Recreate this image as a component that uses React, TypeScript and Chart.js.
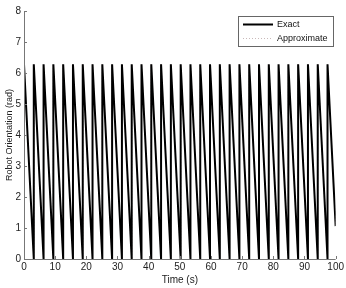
import React, { useEffect, useRef } from "react";
import { Chart, registerables } from "chart.js";

Chart.register(...registerables);

// Times (s) at which the orientation wraps from 0 back up to 2π
const peakTimes = [
  0, 3.14, 6.28, 9.42, 12.57, 15.71, 18.85, 21.99, 25.13, 28.27, 31.42, 34.56,
  37.7, 40.84, 43.98, 47.12, 50.27, 53.41, 56.55, 59.69, 62.83, 65.97, 69.12,
  72.26, 75.4, 78.54, 81.68, 84.82, 87.96, 91.11, 94.25, 97.39,
];
const topValue = 6.28;
const bottomValue = 0;
const endTime = 100;
const endValue = 1.06;

const seriesLabels = ["Exact", "Approximate"];
const xTickValues = [0, 10, 20, 30, 40, 50, 60, 70, 80, 90, 100];
const yTickValues = [0, 1, 2, 3, 4, 5, 6, 7, 8];

const FONT = "'Liberation Sans', Arial, sans-serif";

function buildPath() {
  const pts: { x: number; y: number }[] = [];
  peakTimes.forEach((t, i) => {
    if (i > 0) pts.push({ x: t, y: bottomValue });
    pts.push({ x: t, y: topValue });
  });
  pts.push({ x: endTime, y: endValue });
  return pts;
}

const axesPlugin = {
  id: "matlabAxes",
  afterDraw(chart: any) {
    const { ctx, chartArea } = chart;
    const x = chart.scales.x;
    const y = chart.scales.y;
    ctx.save();
    ctx.strokeStyle = "#777";
    ctx.lineWidth = 1;
    ctx.beginPath();
    ctx.moveTo(chartArea.left + 0.5, chartArea.top);
    ctx.lineTo(chartArea.left + 0.5, chartArea.bottom + 0.5);
    ctx.lineTo(chartArea.right, chartArea.bottom + 0.5);
    ctx.stroke();
    ctx.beginPath();
    xTickValues.forEach((v) => {
      const px = Math.round(x.getPixelForValue(v)) + 0.5;
      ctx.moveTo(px, chartArea.bottom);
      ctx.lineTo(px, chartArea.bottom - 3);
    });
    yTickValues.forEach((v) => {
      const py = Math.round(y.getPixelForValue(v)) + 0.5;
      ctx.moveTo(chartArea.left, py);
      ctx.lineTo(chartArea.left + 3, py);
    });
    ctx.stroke();

    // legend
    const lx = 238.5, ly = 16.5, lw = 95, lh = 30;
    ctx.fillStyle = "#fff";
    ctx.fillRect(lx, ly, lw, lh);
    ctx.strokeStyle = "#666";
    ctx.strokeRect(lx, ly, lw, lh);
    ctx.strokeStyle = "#000";
    ctx.lineWidth = 2;
    ctx.beginPath();
    ctx.moveTo(243, 24.5);
    ctx.lineTo(273, 24.5);
    ctx.stroke();
    ctx.strokeStyle = "#c9b9b9";
    ctx.lineWidth = 1;
    ctx.setLineDash([1, 2]);
    ctx.beginPath();
    ctx.moveTo(243, 38.5);
    ctx.lineTo(273, 38.5);
    ctx.stroke();
    ctx.setLineDash([]);
    ctx.fillStyle = "#111";
    ctx.font = `9px ${FONT}`;
    ctx.textBaseline = "middle";
    ctx.textAlign = "left";
    ctx.fillText(seriesLabels[0], 277, 25);
    ctx.fillText(seriesLabels[1], 277, 39);
    ctx.restore();
  },
};

export default function App() {
  const ref = useRef<HTMLCanvasElement>(null);
  useEffect(() => {
    if (!ref.current) return;
    const path = buildPath();
    const chart = new Chart(ref.current, {
      type: "line",
      data: {
        datasets: [
          {
            label: seriesLabels[0],
            data: path,
            borderColor: "#000",
            borderWidth: 2,
            pointRadius: 0,
            tension: 0,
            order: 1,
          },
          {
            label: seriesLabels[1],
            data: path,
            borderColor: "#c9a9a9",
            borderWidth: 1,
            borderDash: [1, 2],
            pointRadius: 0,
            tension: 0,
            order: 2,
          },
        ],
      },
      options: {
        animation: false,
        responsive: false,
        maintainAspectRatio: false,
        layout: { padding: { top: 11, right: 6, left: 0, bottom: 0 } },
        plugins: { legend: { display: false }, tooltip: { enabled: false } },
        scales: {
          x: {
            type: "linear",
            min: 0,
            max: 100,
            afterFit(scale: any) {
              scale.height = 29;
            },
            afterBuildTicks(scale: any) {
              scale.ticks = xTickValues.map((v) => ({ value: v }));
            },
            grid: { display: false, drawTicks: false },
            border: { display: false },
            ticks: {
              color: "#222",
              font: { family: FONT, size: 10 },
              padding: 2,
              maxRotation: 0,
              autoSkip: false,
            },
            title: {
              display: true,
              text: "Time (s)",
              color: "#222",
              font: { family: FONT, size: 10 },
              padding: { top: 0, bottom: 2 },
            },
          },
          y: {
            type: "linear",
            min: 0,
            max: 8,
            afterFit(scale: any) {
              scale.width = 24;
            },
            afterBuildTicks(scale: any) {
              scale.ticks = yTickValues.map((v) => ({ value: v }));
            },
            grid: { display: false, drawTicks: false },
            border: { display: false },
            ticks: {
              color: "#222",
              font: { family: FONT, size: 10 },
              padding: 3,
              autoSkip: false,
            },
            title: {
              display: true,
              text: "Robot Orientation (rad)",
              color: "#222",
              font: { family: FONT, size: 9 },
              padding: { top: 4, bottom: 0 },
            },
          },
        },
      },
      plugins: [axesPlugin],
    });
    return () => chart.destroy();
  }, []);
  return (
    <div style={{ position: "absolute", left: 0, top: 0, width: 346, height: 288, background: "#fff" }}>
      <canvas ref={ref} width={346} height={288} />
    </div>
  );
}
